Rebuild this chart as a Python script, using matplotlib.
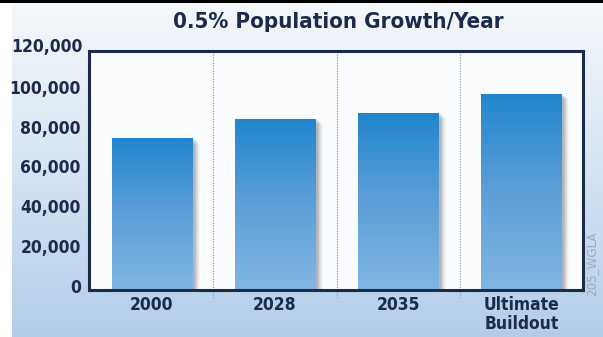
import matplotlib

matplotlib.use("Agg")
import matplotlib.pyplot as plt
import numpy as np
from matplotlib.colors import LinearSegmentedColormap
from matplotlib.patches import Rectangle
from matplotlib.transforms import ScaledTranslation

categories = ["2000", "2028", "2035", "Ultimate\nBuildout"]
population = [76500, 86000, 89000, 98500]
y_ticks = [0, 20000, 40000, 60000, 80000, 100000, 120000]

NAVY = "#1c2b4c"
FONT = dict(family="DejaVu Sans", stretch="condensed", weight="bold")

fig = plt.figure(figsize=(6.03, 3.37), dpi=100)

# page background: pale blue wash that fades to white at the top
bg = fig.add_axes([0, 0, 1, 1], zorder=-10)
bg.set_xlim(0, 1)
bg.set_ylim(0, 1)
bg.axis("off")
wash = LinearSegmentedColormap.from_list("wash", ["#b3cde9", "#d6e4f3", "#f6f8fb"])
bg.imshow(np.linspace(0, 1, 256).reshape(-1, 1), cmap=wash, origin="lower",
          extent=[0, 1, 0, 1], aspect="auto")
bg.add_patch(Rectangle((0, 0), 12 / 603, 1, facecolor="white", edgecolor="none"))
bg.add_patch(Rectangle((0, 1 - 2.5 / 337), 1, 2.5 / 337, facecolor="black", edgecolor="none"))

ax = fig.add_axes([89 / 603, 1 - 290 / 337, 494 / 603, 239 / 337])
ax.set_facecolor("#fbfcfe")

bar_cmap = LinearSegmentedColormap.from_list("bar", ["#80b6e3", "#5d9fd8", "#2186cd"])
width = 0.65
px = 4.01 / 494  # one pixel in x data units
py = 120000 / 239  # one pixel in y data units

for i, value in enumerate(population):
    x0 = i - width / 2
    # soft drop shadow on the right-hand side
    for k, alpha in enumerate([0.10, 0.10, 0.09, 0.07, 0.05, 0.03]):
        ax.add_patch(Rectangle((x0 + 2 * px, 0), width + (k + 1) * px, value - (k + 1) * py,
                               facecolor="#404850", edgecolor="none", alpha=alpha, zorder=2))
    bar = ax.bar(i, value, width=width, color="none", edgecolor="none", zorder=3)[0]
    img = ax.imshow(np.linspace(0, 1, 128).reshape(-1, 1), cmap=bar_cmap, origin="lower",
                    extent=[x0, x0 + width, 0, value], aspect="auto", zorder=3)
    img.set_clip_path(bar)

ax.set_xlim(-0.51, 3.5)
ax.set_ylim(0, 120000)

# dotted separators between categories
for xs in [0.5, 1.5, 2.5]:
    ax.plot([xs, xs], [-8 * py, 120000], color="#9aa0a8", lw=0.8, ls=(0, (1.2, 1.2)),
            zorder=1, clip_on=False)

for side in ["left", "right", "top", "bottom"]:
    ax.spines[side].set_color(NAVY)
    ax.spines[side].set_linewidth(2.2)
    ax.spines[side].set_zorder(5)

ax.set_xticks(range(len(categories)))
ax.set_xticklabels(categories, fontsize=12.5, color=NAVY, linespacing=1.1, **FONT)
ax.tick_params(axis="x", length=0, pad=4)

ax.set_yticks(y_ticks[:-1])
ax.set_yticklabels([f"{v:,}" for v in y_ticks[:-1]], fontsize=12.5, color=NAVY, **FONT)
ax.tick_params(axis="y", length=0, pad=6)
nudge = ScaledTranslation(0, 4 / 100, fig.dpi_scale_trans)
for label in ax.get_yticklabels():
    label.set_transform(label.get_transform() + nudge)

# the top tick sits on the frame itself, outside the tick range
ax.text(-6 / 494, y_ticks[-1], f"{y_ticks[-1]:,}", ha="right", va="center", fontsize=12.5,
        color=NAVY, clip_on=False, transform=ax.get_yaxis_transform() + nudge, **FONT)

fig.text(338 / 603, 1 - 22 / 337, "0.5% Population Growth/Year", ha="center", va="center",
         fontsize=16, color=NAVY, **FONT)
fig.text(592 / 603, 1 - 264 / 337, "205_WGLA", rotation=90, ha="center", va="center",
         family="DejaVu Sans", stretch="condensed", fontsize=9.5, color="#a3aab3")

fig.savefig("out.png", dpi=100)
